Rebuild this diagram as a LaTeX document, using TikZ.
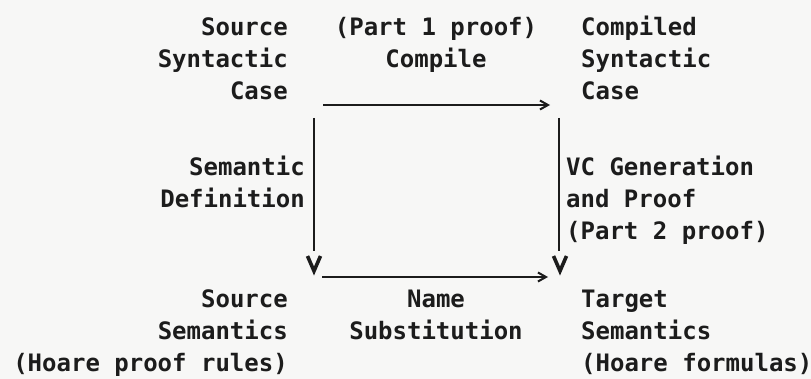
\documentclass[tikz,border=0pt]{standalone}
\usepackage{fontspec}
\newfontfamily\typewriter{DejaVu Sans Mono}
\usetikzlibrary{arrows.meta}
\definecolor{ink}{HTML}{1C1C1C}
\definecolor{paper}{HTML}{F7F7F6}
% stacked lines whose baseline is the baseline of the first line
\newcommand\rstack[1]{\begin{tabular}[t]{@{}r@{}}#1\end{tabular}}
\newcommand\lstack[1]{\begin{tabular}[t]{@{}l@{}}#1\end{tabular}}
\newcommand\cstack[1]{\begin{tabular}[t]{@{}c@{}}#1\end{tabular}}
\tikzset{
  label text/.style={inner sep=0pt, text=ink,
    font=\typewriter\bfseries\fontsize{24}{32}\selectfont},
  hline/.style={draw=ink, line width=2pt,
    -{Straight Barb[length=8pt,width=9pt,line width=2pt]}},
  vline/.style={draw=ink, line width=2.9pt},
  vhead/.style={draw=ink, line width=3.6pt, line join=miter},
}
\begin{document}
\begin{tikzpicture}[x=1pt,y=-1pt]
\fill[paper] (0,0) rectangle (811,379);
\useasboundingbox (0,0) rectangle (811,379);

% the four corners of the square
\node[label text, anchor=base east] (srcsyn) at (288,36)
  {\rstack{Source\\Syntactic\\Case}};
\node[label text, anchor=base west] (cmpsyn) at (581,36)
  {\lstack{Compiled\\Syntactic\\Case}};
\node[label text, anchor=base east] (srcsem) at (288,308)
  {\rstack{Source\\Semantics\\(Hoare proof rules)}};
\node[label text, anchor=base west] (tgtsem) at (581,308)
  {\lstack{Target\\Semantics\\(Hoare formulas)}};

% edge labels
\node[label text, anchor=base] (compile) at (436,36)
  {\cstack{(Part 1 proof)\\Compile}};
\node[label text, anchor=base east] (semdef) at (305,176)
  {\rstack{Semantic\\Definition}};
\node[label text, anchor=base west] (vcgen) at (566,176)
  {\lstack{VC Generation\\and Proof\\(Part 2 proof)}};
\node[label text, anchor=base] (namesub) at (436,308)
  {\cstack{Name\\Substitution}};

% arrow end points
\coordinate (topL) at (323,105);
\coordinate (topR) at (550,105);
\coordinate (leftT) at (314,118);
\coordinate (leftE) at (314,251);
\coordinate (leftB) at (314,271);
\coordinate (rightT) at (559,118);
\coordinate (rightE) at (559,251);
\coordinate (rightB) at (560,271);
\coordinate (botL) at (322,277);
\coordinate (botR) at (548,277);

% horizontal arrows with small open heads
\draw[hline] (topL) -- (topR);
\draw[hline] (botL) -- (botR);

% vertical arrows: shaft, then a V-shaped head just below it
\draw[vline] (leftT) -- (leftE);
\draw[vhead] ([shift={(-6.5,-15)}]leftB) -- (leftB) -- ([shift={(6.5,-15)}]leftB);
\draw[vline] (rightT) -- (rightE);
\draw[vhead] ([shift={(-6.5,-15)}]rightB) -- (rightB) -- ([shift={(6.5,-15)}]rightB);
\end{tikzpicture}
\end{document}
